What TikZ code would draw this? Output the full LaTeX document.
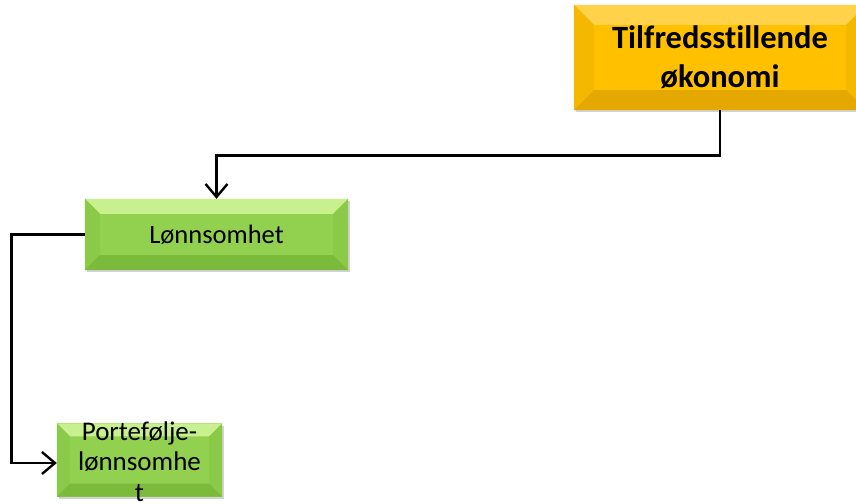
\documentclass[tikz,border=0pt]{standalone}
\usepackage{fontspec}
\setmainfont{Carlito}[Ligatures=NoCommon]
\usetikzlibrary{calc,arrows.meta,shadows}
\definecolor{ymain}{HTML}{FFC000}
\definecolor{ytop}{HTML}{FFD24A}
\definecolor{yside}{HTML}{F5B800}
\definecolor{ybot}{HTML}{E5A800}
\definecolor{gmain}{HTML}{92D050}
\definecolor{gtop}{HTML}{C8F08E}
\definecolor{gside}{HTML}{8ACA48}
\definecolor{gbot}{HTML}{7CBA3C}
\newcommand\bevelize[3]{%
  \fill[#3top] (#1.north west) -- (#1.north east) -- ($(#1.north east)+(-#2,-#2)$) -- ($(#1.north west)+(#2,-#2)$) -- cycle;
  \fill[#3side] (#1.north west) -- ($(#1.north west)+(#2,-#2)$) -- ($(#1.south west)+(#2,#2)$) -- (#1.south west) -- cycle;
  \fill[#3side] (#1.north east) -- ($(#1.north east)+(-#2,-#2)$) -- ($(#1.south east)+(-#2,#2)$) -- (#1.south east) -- cycle;
  \fill[#3bot] (#1.south west) -- ($(#1.south west)+(#2,#2)$) -- ($(#1.south east)+(-#2,#2)$) -- (#1.south east) -- cycle;
}
\tikzset{
  box/.style={draw=none, rectangle, inner sep=0pt, drop shadow={shadow xshift=1.5pt, shadow yshift=-2.5pt, opacity=0.35}},
  conn/.style={line width=2.8pt, black, -{Straight Barb[length=13pt,width=22pt,line width=2.4pt]}},
}
\begin{document}
\begin{tikzpicture}[x=1pt,y=1pt]
\useasboundingbox (0,0) rectangle (856,503);
\node[box, fill=ymain, minimum width=292pt, minimum height=105pt] (top) at (720,445.5) {};
\bevelize{top}{20pt}{y}
\node[font=\fontsize{32.5}{39}\selectfont\bfseries, align=center] (toplabel) at (top.center) {Tilfredsstillende\\økonomi};

\node[box, fill=gmain, minimum width=263pt, minimum height=71pt] (lon) at (216.5,268.5) {};
\bevelize{lon}{15pt}{g}
\node[font=\fontsize{26.5}{32}\selectfont] (lonlabel) at (lon.center) {Lønnsomhet};

\node[box, fill=gmain, minimum width=165pt, minimum height=73pt] (port) at (139.5,43) {};
\bevelize{port}{13pt}{g}
\node[font=\fontsize{27}{30.5}\selectfont, align=center] (portlabel) at ($(port.center)+(0,-1.5)$) {Portefølje-\\lønnsomhe\\t};

\draw[conn] (top.south) -- ++(0,-45) -| (lon.north);
\draw[conn] (lon.west) -- ++(-73,0) |- ($(port.west)+(0,-3)$);
\end{tikzpicture}
\end{document}
